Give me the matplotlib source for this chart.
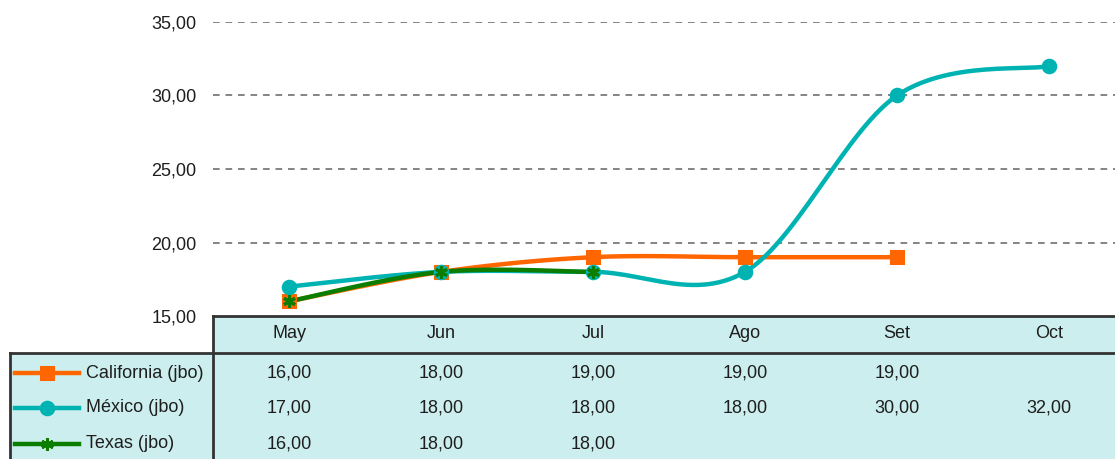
import matplotlib.pyplot as plt
import matplotlib.transforms as mtransforms
from matplotlib import font_manager
import numpy as np

months = ["May", "Jun", "Jul", "Ago", "Set", "Oct"]
california = [16, 18, 19, 19, 19, np.nan]
mexico = [17, 18, 18, 18, 30, 32]
texas = [16, 18, 18, np.nan, np.nan, np.nan]
series_names = ["California (jbo)", "México (jbo)", "Texas (jbo)"]
yticks = [15, 20, 25, 30, 35]

# narrow font looks closer to the original, fall back if missing
try:
    font_manager.findfont("Liberation Sans Narrow", fallback_to_default=False)
    plt.rcParams['font.family'] = ['Liberation Sans Narrow', 'DejaVu Sans']
    FS = 14.5
except Exception:
    plt.rcParams['font.family'] = ['Liberation Sans', 'DejaVu Sans']
    FS = 13

W, H = 1115, 459
bg = "#cceeee"
edge = "#333333"
tc = "#1e1e1e"
colors = ["#ff6600", "#00b3b3", "#0b7d00"]
markers = ["s", "o", (6, 2, 0)]
msizes = [9, 9, 9]


def fmt(v):
    return f"{v:.2f}".replace(".", ",")


def smooth(xs, ys, n=30):
    # Excel-style smoothed line: cubic bezier with catmull-rom control points
    pts = [(x, y) for x, y in zip(xs, ys) if not np.isnan(y)]
    P = np.array(pts, dtype=float)
    k = len(P)
    outx, outy = [], []
    t = np.linspace(0, 1, n)
    for i in range(k - 1):
        p0 = P[max(i - 1, 0)]
        p1 = P[i]
        p2 = P[i + 1]
        p3 = P[min(i + 2, k - 1)]
        c1 = p1 + (p2 - p0) / 6
        c2 = p2 - (p3 - p1) / 6
        b = ((1 - t) ** 3)[:, None] * p1 + (3 * (1 - t) ** 2 * t)[:, None] * c1 \
            + (3 * (1 - t) * t ** 2)[:, None] * c2 + (t ** 3)[:, None] * p2
        outx.extend(b[:, 0])
        outy.extend(b[:, 1])
    return np.array(outx), np.array(outy)


fig = plt.figure(figsize=(W / 100, H / 100), dpi=100)
# axes spans six category slots, right edge slightly beyond the figure
ax = fig.add_axes([213 / W, 143 / H, 912 / W, 294 / H])
ax.set_xlim(-0.5, 5.5)
ax.set_ylim(15, 35)
ax.set_yticks(yticks)
ax.set_yticklabels([fmt(v) for v in yticks], fontsize=FS, color=tc)
ax.set_xticks([])
ax.tick_params(axis="y", length=0, pad=12)
for s in ax.spines.values():
    s.set_visible(False)
for v in yticks[1:]:
    ax.axhline(v, color="#707070", lw=1.2, ls=(0, (4, 3.5)), zorder=1)

x = np.arange(len(months))
for vals, c, m, ms in zip([california, mexico, texas], colors, markers, msizes):
    sx, sy = smooth(x, vals)
    ax.plot(sx, sy, color=c, lw=3.2, zorder=3, solid_capstyle="round", clip_on=False)
    ax.plot(x, vals, ls="none", marker=m, ms=ms, color=c, mec=c, mew=2.2,
            zorder=4, clip_on=False)

# data table under the plot
def fy(py):
    return 1 - py / H

blend = mtransforms.blended_transform_factory(ax.transData, fig.transFigure)
fig.patches.append(plt.Rectangle((213 / W, fy(470)), 1, fy(316) - fy(470),
                                 transform=fig.transFigure, facecolor=bg,
                                 edgecolor="none", zorder=0))
fig.patches.append(plt.Rectangle((10 / W, fy(470)), 203 / W, fy(353) - fy(470),
                                 transform=fig.transFigure, facecolor=bg,
                                 edgecolor="none", zorder=0))
lines = [([213, 1115], [316, 316]), ([213, 213], [316, 470]),
         ([10, 1115], [353, 353]), ([10, 10], [353, 470])]
for lx, ly in lines:
    fig.add_artist(plt.Line2D([v / W for v in lx], [fy(v) for v in ly],
                              transform=fig.transFigure, color=edge, lw=2))

for i, mname in enumerate(months):
    fig.text(i, fy(334), mname, transform=blend, ha="center", va="center",
             fontsize=FS, color=tc)

row_y = [373, 408, 444]
for r, (name, vals) in enumerate(zip(series_names, [california, mexico, texas])):
    yy = fy(row_y[r])
    fig.add_artist(plt.Line2D([15 / W, 79 / W], [yy, yy], transform=fig.transFigure,
                              color=colors[r], lw=3.2))
    fig.add_artist(plt.Line2D([47 / W], [yy], transform=fig.transFigure, ls="none",
                              marker=markers[r], ms=msizes[r], color=colors[r],
                              mec=colors[r], mew=2.2))
    fig.text(86 / W, yy, name, ha="left", va="center", fontsize=FS, color=tc)
    for i, v in enumerate(vals):
        if not np.isnan(v):
            fig.text(i, yy, fmt(v), transform=blend, ha="center", va="center",
                     fontsize=FS, color=tc)

fig.savefig("out.png", dpi=100)
